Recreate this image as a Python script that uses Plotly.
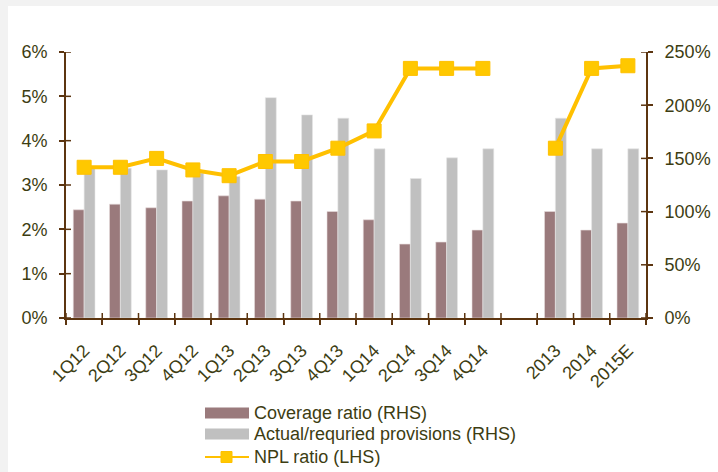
import plotly.graph_objects as go

categories = ["1Q12", "2Q12", "3Q12", "4Q12", "1Q13", "2Q13", "3Q13", "4Q13",
              "1Q14", "2Q14", "3Q14", "4Q14", " ", "2013", "2014", "2015E"]
coverage_ratio = [101.7, 107.0, 103.6, 109.9, 114.8, 111.7, 109.9, 100.1,
                  92.3, 69.5, 71.4, 82.6, None, 100.1, 82.6, 89.2]
actual_required = [140.8, 140.8, 139.2, 136.2, 133.0, 207.1, 190.9, 187.8,
                   159.0, 131.1, 150.5, 159.0, None, 187.8, 159.0, 159.0]
npl_ratio = [3.40, 3.40, 3.60, 3.34, 3.21, 3.53, 3.53, 3.83,
             4.22, 5.63, 5.63, 5.63, None, 3.83, 5.63, 5.69]
series_names = ["Coverage ratio (RHS)", "Actual/requried provisions (RHS)", "NPL ratio (LHS)"]
left_ticks = [0, 1, 2, 3, 4, 5, 6]
right_ticks = [0, 50, 100, 150, 200, 250]
left_labels = [f"{v}%" for v in left_ticks]
right_labels = [f"{v}%" for v in right_ticks]

FONT = "Liberation Sans, Arial, sans-serif"
TXT = "#3d3d12"
AX = "#5c3510"
C_COV = "#9a7a7c"
C_ACT = "#c0c0c0"
C_NPL = "#ffc000"
C_NPL_M = "#ffc800"

W, H = 718, 472
ML, MR, MT, MB = 66, 72, 52, 154
PW, PH = W - ML - MR, H - MT - MB
TL = 5  # tick half-length


def px(x):
    return (x - ML) / PW


def py(y):
    return (H - MB - y) / PH


fig = go.Figure()
fig.add_trace(go.Bar(x=categories, y=coverage_ratio, name=series_names[0],
                     marker=dict(color=C_COV, line=dict(color="#e8dede", width=0.6)),
                     yaxis="y", showlegend=False))
fig.add_trace(go.Bar(x=categories, y=actual_required, name=series_names[1],
                     marker=dict(color=C_ACT, line=dict(color="#e6e6e6", width=0.6)),
                     yaxis="y", showlegend=False))
fig.add_trace(go.Scatter(x=categories, y=npl_ratio, name=series_names[2], mode="lines+markers",
                         connectgaps=False, cliponaxis=False,
                         line=dict(color=C_NPL, width=4),
                         marker=dict(symbol="square", size=14, color=C_NPL_M,
                                     line=dict(color=C_NPL, width=1)),
                         yaxis="y2", showlegend=False))

leg_rows = [413, 434, 457]
shapes = [
    dict(type="rect", xref="paper", yref="paper", x0=px(0), x1=px(8), y0=py(H + 5), y1=py(0),
         fillcolor="#f2f2f2", line=dict(width=0), layer="below"),
    dict(type="rect", xref="paper", yref="paper", x0=px(0), x1=px(W + 5), y0=py(6), y1=py(0),
         fillcolor="#f2f2f2", line=dict(width=0), layer="below"),
    dict(type="rect", xref="paper", yref="paper", x0=px(205), x1=px(249),
         y0=py(leg_rows[0] + 5.5), y1=py(leg_rows[0] - 5.5), fillcolor=C_COV, line=dict(width=0)),
    dict(type="rect", xref="paper", yref="paper", x0=px(205), x1=px(249),
         y0=py(leg_rows[1] + 5.5), y1=py(leg_rows[1] - 5.5), fillcolor=C_ACT, line=dict(width=0)),
    dict(type="line", xref="paper", yref="paper", x0=px(205), x1=px(249),
         y0=py(leg_rows[2]), y1=py(leg_rows[2]), line=dict(color=C_NPL, width=2)),
    dict(type="rect", xref="paper", yref="paper", x0=px(221), x1=px(232),
         y0=py(leg_rows[2] + 5.5), y1=py(leg_rows[2] - 5.5), fillcolor=C_NPL_M,
         line=dict(color=C_NPL, width=1)),
]
# inner halves of the crossing tick marks
for v in left_ticks:
    shapes.append(dict(type="line", xref="paper", yref="y2", x0=0, x1=TL / PW, y0=v, y1=v,
                       line=dict(color=AX, width=1.5), layer="below"))
for v in right_ticks:
    shapes.append(dict(type="line", xref="paper", yref="y", x0=1 - TL / PW, x1=1, y0=v, y1=v,
                       line=dict(color=AX, width=1.5), layer="below"))
for i in range(len(categories) + 1):
    shapes.append(dict(type="line", xref="x", yref="paper", x0=i - 0.5, x1=i - 0.5,
                       y0=0, y1=TL / PH, line=dict(color=AX, width=1.5), layer="below"))

annotations = [
    dict(xref="paper", yref="paper", x=px(252), y=py(r), text=name, showarrow=False,
         xanchor="left", yanchor="middle", font=dict(family=FONT, size=18, color=TXT))
    for r, name in zip(leg_rows, series_names)
]

fig.update_layout(
    width=W, height=H,
    margin=dict(l=ML, r=MR, t=MT, b=MB, autoexpand=False),
    paper_bgcolor="white", plot_bgcolor="white",
    font=dict(family=FONT, size=18, color=TXT),
    barmode="group", bargap=0.4, bargroupgap=0,
    showlegend=False,
    xaxis=dict(type="category", categoryorder="array", categoryarray=categories,
               range=[-0.5, len(categories) - 0.5], autorange=False,
               tickson="boundaries", ticks="outside", ticklen=TL, tickwidth=1.5, tickcolor=AX,
               showline=True, linecolor=AX, linewidth=2, tickangle=-45,
               ticklabelstandoff=13,
               showgrid=False, zeroline=False, automargin=False,
               tickfont=dict(family=FONT, size=18, color=TXT)),
    yaxis=dict(range=[0, 250], tickmode="array", tickvals=right_ticks, ticktext=right_labels,
               side="right",
               showline=True, linecolor=AX, linewidth=2, ticks="outside", ticklen=TL,
               tickwidth=1.5, tickcolor=AX, showgrid=False, zeroline=False, automargin=False,
               ticklabelstandoff=8,
               tickfont=dict(family=FONT, size=18, color=TXT)),
    yaxis2=dict(range=[0, 6], tickmode="array", tickvals=left_ticks, ticktext=left_labels,
                side="left", overlaying="y",
                showline=True, linecolor=AX, linewidth=2, ticks="outside", ticklen=TL,
                tickwidth=1.5, tickcolor=AX, showgrid=False, zeroline=False, automargin=False,
                ticklabelstandoff=8,
                tickfont=dict(family=FONT, size=18, color=TXT)),
    shapes=shapes,
    annotations=annotations,
)

fig.write_html("out.html")
